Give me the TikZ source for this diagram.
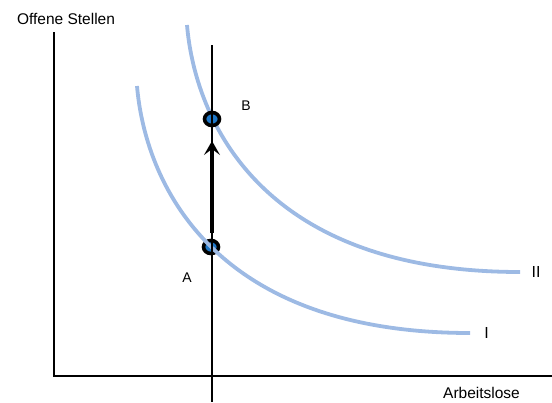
\documentclass[tikz,border=0pt]{standalone}
\usepackage{fontspec}
\setmainfont{Liberation Sans}
\usetikzlibrary{arrows.meta,shapes.geometric}
\definecolor{curveblue}{HTML}{9DBAE4}
\definecolor{dotblue}{HTML}{1F78C8}
\begin{document}
\begin{tikzpicture}[x=1pt,y=-1pt,
  axis/.style={line width=1.2pt,black},
  curve/.style={line width=3.8pt,curveblue},
  marker/.style={ellipse,draw=black,line width=3.6pt,fill=dotblue,minimum width=15pt,minimum height=13pt,inner sep=0pt},
  lbl/.style={font=\fontsize{15.5}{18}\selectfont,inner sep=0pt,anchor=base},
  small/.style={font=\fontsize{14}{16}\selectfont,inner sep=0pt,anchor=base}]
\useasboundingbox (0,0) rectangle (552,402);
% axes
\coordinate (ytop) at (54,32);
\coordinate (origin) at (54,376);
\coordinate (xend) at (552,376);
\draw[axis] (ytop) -- (origin) -- (xend);
\node[lbl] (ylabel) at (66,24) {Offene Stellen};
\node[lbl] (xlabel) at (481.5,398) {Arbeitslose};
% curve II and point B
\draw[curve] (187,25) .. controls (195,119) and (260,272) .. (520,272);
\node[marker] (B) at (212,119) {};
% point A and curve I
\node[marker] (A) at (211,247) {};
\draw[curve] (137,86) .. controls (145,180) and (210,333) .. (470,333);
\node[lbl,font=\fontsize{16}{18}\selectfont] (labI) at (486.5,338) {I};
\node[lbl,font=\fontsize{16}{18}\selectfont] (labII) at (536,277) {II};
% vertical line
\coordinate (vtop) at (212,45);
\coordinate (vbot) at (212,402);
\draw[line width=2pt] (vtop) -- (vbot);
\node[small] (labA) at (187,282) {A};
\node[small] (labB) at (246,110) {B};
% arrow
\coordinate (arrs) at (212,233);
\coordinate (arre) at (212,141);
\draw[line width=4pt,-{Stealth[length=14pt,width=16pt,inset=6pt]}] (arrs) -- (arre);
\end{tikzpicture}
\end{document}
